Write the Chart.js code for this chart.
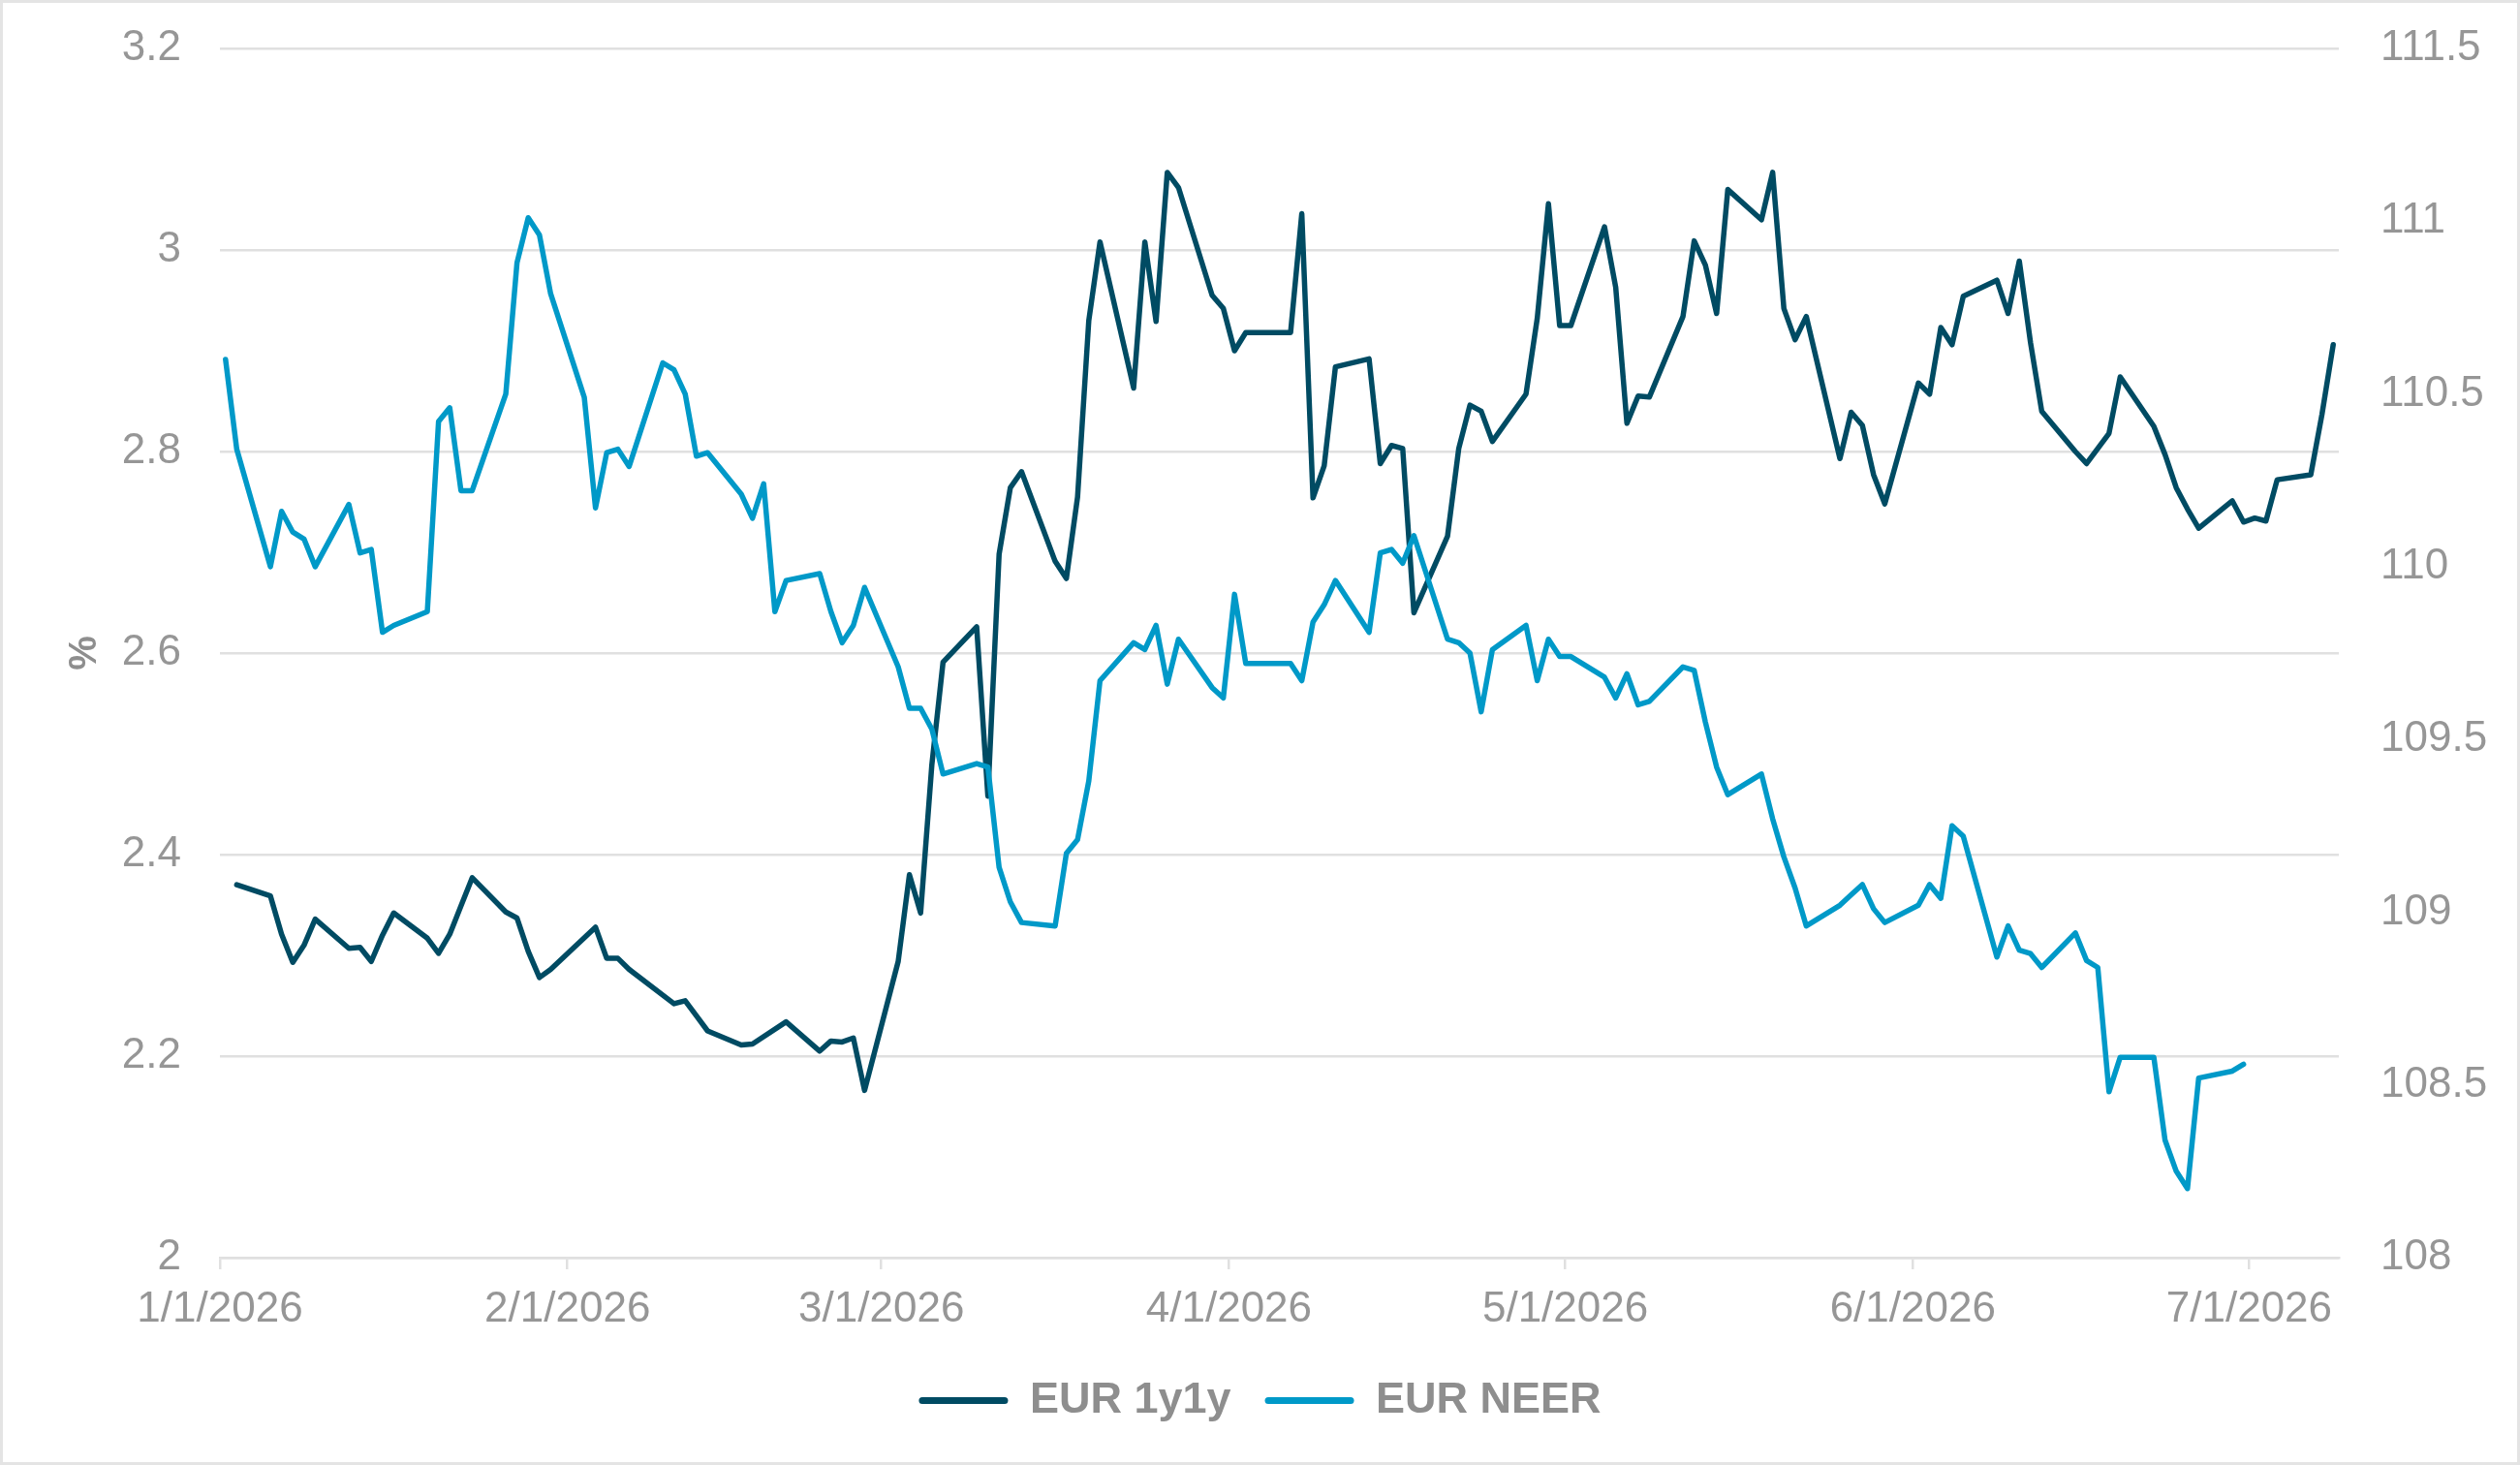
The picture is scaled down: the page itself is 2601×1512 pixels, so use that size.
<!DOCTYPE html>
<html>
<head>
<meta charset="utf-8">
<title>EUR 1y1y vs EUR NEER</title>
<script src="https://cdn.jsdelivr.net/npm/chart.js@4.4.1/dist/chart.umd.min.js"></script>
<style>
  html, body { margin: 0; padding: 0; background: #fff; }
  #wrap { position: relative; width: 2601px; height: 1512px; }
  #frame {
    position: absolute; left: 0; top: 0; width: 2601px; height: 1512px;
    box-sizing: border-box; border: 3px solid #e4e4e4; pointer-events: none;
  }
</style>
</head>
<body>
<div id="wrap">
  <canvas id="chart" width="2601" height="1512"></canvas>
  <div id="frame"></div>
</div>
<script>
// x 軸：以 2026/1/1 起算的天數（交易日）
const monthStarts = [0, 31, 59, 90, 120, 151, 181];
const monthLabels = ['1/1/2026', '2/1/2026', '3/1/2026', '4/1/2026', '5/1/2026', '6/1/2026', '7/1/2026'];

// EUR 1y1y (%)，左軸
const fwdDays = [
  1, 4, 5, 6, 7, 8, 11, 12, 13, 14, 15, 18, 19, 20, 21, 22, 25, 26, 27, 28, 29,
  33, 34, 35, 36, 40, 41, 42, 43, 46, 47, 50, 53, 54, 55, 56, 57,
  60, 61, 62, 63, 64, 67, 68, 69, 70, 71, 74, 75, 76, 77, 78, 81, 82, 83, 84, 85, 88, 89,
  90, 91, 95, 96, 97, 98, 99, 102, 103, 104, 105, 106, 109, 110, 111, 112, 113, 116, 117, 118, 119,
  120, 123, 124, 125, 126, 127, 130, 131, 132, 133, 134, 137, 138, 139, 140, 141, 144, 145, 146, 147, 148,
  151, 152, 153, 154, 155, 158, 159, 160, 161, 162, 165, 166, 167, 168, 169, 172, 173, 174, 175, 176,
  179, 180, 181, 182, 183, 186, 187, 188
];
const fwdValues = [
  2.370, 2.359, 2.321, 2.293, 2.310, 2.336, 2.307, 2.308, 2.294, 2.320, 2.342, 2.317, 2.302, 2.321, 2.349, 2.377, 2.343, 2.337, 2.304, 2.278, 2.286,
  2.328, 2.297, 2.297, 2.286, 2.252, 2.255, 2.240, 2.225, 2.211, 2.212, 2.234, 2.205, 2.215, 2.214, 2.218, 2.166,
  2.294, 2.380, 2.342, 2.489, 2.591, 2.626, 2.458, 2.698, 2.764, 2.780, 2.691, 2.674, 2.755, 2.930, 3.008, 2.863, 3.008, 2.929, 3.077, 3.062, 2.955, 2.942,
  2.900, 2.918, 2.918, 3.036, 2.754, 2.786, 2.884, 2.892, 2.788, 2.806, 2.803, 2.640, 2.716, 2.803, 2.846, 2.840, 2.810, 2.857, 2.932, 3.046, 2.925,
  2.925, 3.023, 2.963, 2.828, 2.855, 2.854, 2.934, 3.009, 2.985, 2.937, 3.060, 3.030, 3.077, 2.942, 2.911, 2.934, 2.793, 2.839, 2.826, 2.777, 2.748,
  2.868, 2.857, 2.923, 2.906, 2.954, 2.970, 2.937, 2.989, 2.908, 2.840, 2.800, 2.788, 2.803, 2.818, 2.874, 2.825, 2.797, 2.764, 2.743, 2.724,
  2.751, 2.730, 2.734, 2.731, 2.772, 2.777, 2.837, 2.906
];

// EUR NEER，右軸
const neerDays = [
  0, 1, 4, 5, 6, 7, 8, 11, 12, 13, 14, 15, 18, 19, 20, 21, 22, 25, 26, 27, 28, 29,
  32, 33, 34, 35, 36, 39, 40, 41, 42, 43, 46, 47, 48, 49, 50, 53, 54, 55, 56, 57,
  60, 61, 62, 63, 64, 67, 68, 69, 70, 71, 74, 75, 76, 77, 78, 81, 82, 83, 84, 85, 88, 89,
  90, 91, 95, 96, 97, 98, 99, 102, 103, 104, 105, 106, 109, 110, 111, 112, 113, 116, 117, 118, 119,
  120, 123, 124, 125, 126, 127, 130, 131, 132, 133, 134, 137, 138, 139, 140, 141, 144, 145, 146, 147, 148,
  151, 152, 153, 154, 155, 158, 159, 160, 161, 162, 165, 166, 167, 168, 169, 172, 173, 174, 175, 176,
  179, 180
];
const neerValues = [
  110.60, 110.34, 110.00, 110.16, 110.10, 110.08, 110.00, 110.18, 110.04, 110.05, 109.81, 109.83, 109.87, 110.42, 110.46, 110.22, 110.22, 110.50, 110.88, 111.01, 110.96, 110.79,
  110.49, 110.17, 110.33, 110.34, 110.29, 110.59, 110.57, 110.50, 110.32, 110.33, 110.21, 110.14, 110.24, 109.87, 109.96, 109.98, 109.87, 109.78, 109.83, 109.94,
  109.71, 109.59, 109.59, 109.53, 109.40, 109.43, 109.42, 109.13, 109.03, 108.97, 108.96, 109.17, 109.21, 109.38, 109.67, 109.78, 109.76, 109.83, 109.66, 109.79, 109.65, 109.62,
  109.92, 109.72, 109.72, 109.67, 109.84, 109.89, 109.96, 109.81, 110.04, 110.05, 110.01, 110.09, 109.79, 109.78, 109.75, 109.58, 109.76, 109.83, 109.67, 109.79, 109.74,
  109.74, 109.68, 109.62, 109.69, 109.60, 109.61, 109.71, 109.70, 109.55, 109.42, 109.34, 109.40, 109.27, 109.16, 109.07, 108.96, 109.02, 109.05, 109.08, 109.01, 108.97,
  109.02, 109.08, 109.04, 109.25, 109.22, 108.87, 108.96, 108.89, 108.88, 108.84, 108.94, 108.86, 108.84, 108.48, 108.58, 108.58, 108.34, 108.25, 108.20, 108.52,
  108.54, 108.56
];

const FWD_COLOR = '#004b63';
const NEER_COLOR = '#0099c8';
const TEXT_COLOR = '#969696';
const GRID_COLOR = '#e0e0e0';

function toPoints(days, values) {
  return days.map((d, i) => ({ x: d, y: values[i] }));
}

// 去掉多餘小數：3.0 -> "3"
function shortNum(v) {
  return String(Number(v.toFixed(2)));
}

// 縱軸寬度固定，並讓上下的標籤溢出不再加上 tick padding
function fixYAxis(width) {
  return function (scale) {
    scale.width = width;
    scale.paddingTop = 20;
    scale.paddingBottom = 20;
  };
}

Chart.defaults.font.family = '"Liberation Sans", Arial, sans-serif';

new Chart(document.getElementById('chart').getContext('2d'), {
  type: 'line',
  data: {
    datasets: [
      {
        label: 'EUR 1y1y',
        data: toPoints(fwdDays, fwdValues),
        yAxisID: 'y',
        borderColor: FWD_COLOR,
        backgroundColor: FWD_COLOR,
        borderWidth: 5.5,
        pointRadius: 0,
        tension: 0,
        borderJoinStyle: 'round',
        borderCapStyle: 'round',
        order: 1
      },
      {
        label: 'EUR NEER',
        data: toPoints(neerDays, neerValues),
        yAxisID: 'y1',
        borderColor: NEER_COLOR,
        backgroundColor: NEER_COLOR,
        borderWidth: 5.5,
        pointRadius: 0,
        tension: 0,
        borderJoinStyle: 'round',
        borderCapStyle: 'round',
        order: 0
      }
    ]
  },
  options: {
    responsive: false,
    devicePixelRatio: 1,
    animation: false,
    layout: { padding: { top: 50, right: 0, bottom: 34, left: 0 } },
    plugins: {
      tooltip: { enabled: false },
      legend: {
        position: 'bottom',
        labels: {
          font: { size: 45, weight: 'bold' },
          color: '#8e8e8e',
          boxWidth: 92,
          boxHeight: 7,
          padding: 35,
          useBorderRadius: true,
          borderRadius: 3.5,
          sort: (a, b) => a.datasetIndex - b.datasetIndex,
          generateLabels(chart) {
            const items = Chart.defaults.plugins.legend.labels.generateLabels(chart);
            items.forEach(item => {
              item.fillStyle = item.strokeStyle;
              item.lineWidth = 0;
            });
            return items;
          }
        }
      }
    },
    scales: {
      x: {
        type: 'linear',
        min: -0.5,
        max: 188.5,
        afterBuildTicks(scale) {
          scale.ticks = monthStarts.map(d => ({ value: d - 0.5 }));
        },
        afterFit(scale) { scale.height = 90; },
        ticks: {
          autoSkip: false,
          maxRotation: 0,
          padding: 15,
          color: TEXT_COLOR,
          font: { size: 44 },
          callback: (value, index) => monthLabels[index]
        },
        grid: {
          drawOnChartArea: false,
          drawTicks: true,
          tickLength: 12,
          color: GRID_COLOR,
          lineWidth: 2.5
        },
        border: { display: true, color: GRID_COLOR, width: 2.5 }
      },
      y: {
        position: 'left',
        min: 2,
        max: 3.2,
        afterFit: fixYAxis(227),
        ticks: {
          stepSize: 0.2,
          padding: 40,
          color: TEXT_COLOR,
          font: { size: 44 },
          callback: v => shortNum(v)
        },
        grid: { color: GRID_COLOR, lineWidth: 2.5, drawTicks: false },
        border: { display: false },
        title: {
          display: true,
          text: '%',
          color: '#8e8e8e',
          font: { size: 40, weight: 'bold' },
          padding: { top: 64, bottom: 0 }
        }
      },
      y1: {
        position: 'right',
        min: 108,
        max: 111.5,
        afterFit: fixYAxis(187),
        ticks: {
          stepSize: 0.5,
          padding: 43,
          color: TEXT_COLOR,
          font: { size: 44 },
          callback: v => shortNum(v)
        },
        grid: { drawOnChartArea: false, drawTicks: false },
        border: { display: false }
      }
    }
  }
});
</script>
</body>
</html>
